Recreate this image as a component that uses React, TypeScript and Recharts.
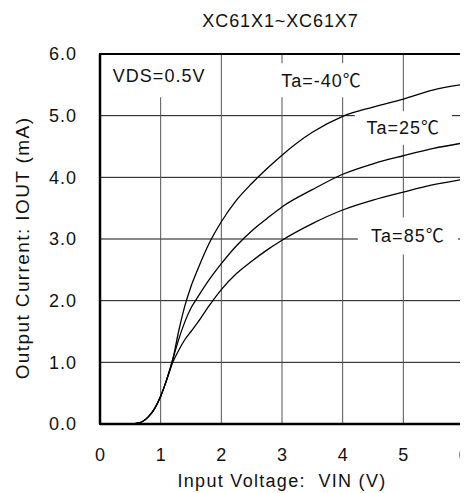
import React from 'react';
import { LineChart, Line, XAxis, YAxis, CartesianGrid, ReferenceArea } from 'recharts';

const title = 'XC61X1~XC61X7';
const xLabel = 'Input Voltage:\u00a0\u00a0VIN (V)';
const yLabel = 'Output Current: IOUT (mA)';

const vin = [0, 0.5, 0.6, 0.7, 0.8, 0.9, 1.0, 1.1, 1.2, 1.3, 1.4, 1.5, 1.6, 1.8, 2.0, 2.25, 2.5, 2.75, 3, 3.5, 4, 4.5, 5, 5.5, 6];
const iTaM40 = [0, 0, 0.01, 0.04, 0.12, 0.25, 0.45, 0.72, 1.05, 1.52, 1.92, 2.23, 2.48, 2.93, 3.28, 3.63, 3.9, 4.14, 4.36, 4.73, 4.99, 5.14, 5.27, 5.42, 5.51];
const iTa25 = [0, 0, 0.01, 0.04, 0.12, 0.25, 0.45, 0.72, 1.05, 1.38, 1.66, 1.88, 2.04, 2.34, 2.6, 2.89, 3.13, 3.33, 3.52, 3.8, 4.05, 4.22, 4.35, 4.47, 4.56];
const iTa85 = [0, 0, 0.01, 0.04, 0.12, 0.25, 0.45, 0.72, 1.0, 1.2, 1.37, 1.5, 1.63, 1.92, 2.18, 2.44, 2.64, 2.82, 2.98, 3.25, 3.47, 3.63, 3.76, 3.88, 3.97];

const xTicks = [0, 1, 2, 3, 4, 5, 6];
const yTicks = [0, 1, 2, 3, 4, 5, 6];

const notes = [
  { text: 'VDS=0.5V', x1: 0.15, x2: 1.8, y1: 5.3, y2: 6.0 },
  { text: 'Ta=-40℃', x1: 2.8, x2: 4.5, y1: 5.3, y2: 5.85 },
  { text: 'Ta=25℃', x1: 4.2, x2: 5.8, y1: 4.53, y2: 5.07 },
  { text: 'Ta=85℃', x1: 4.25, x2: 5.9, y1: 2.75, y2: 3.35 },
];

const data = vin.map((v, i) => ({ v, a: iTaM40[i], b: iTa25[i], c: iTa85[i] }));

const FONT = "'Liberation Sans', Arial, 'Noto Sans CJK SC', sans-serif";

const YLab = (props: any) => {
  const vb = props.viewBox || {};
  const cx = vb.x + 14;
  const cy = vb.y + vb.height / 2 + 9;
  return (
    <text x={cx} y={cy} transform={`rotate(-90, ${cx}, ${cy})`} textAnchor="middle" dominantBaseline="central"
      fontSize={19} letterSpacing={1.4} fill="#111" fontFamily={FONT}>{yLabel}</text>
  );
};

export default function App() {
  return (
    <div style={{ position: 'relative', width: 460, height: 485, fontFamily: FONT, background: '#fff' }}>
      <LineChart width={460} height={485} data={data} margin={{ top: 46, right: 4, left: 0, bottom: 0 }}>
        <CartesianGrid vertical={false} stroke="#111" strokeWidth={1} strokeOpacity={1} />
        <CartesianGrid horizontal={false} stroke="#555" strokeWidth={1} strokeOpacity={1} />
        <XAxis dataKey="v" type="number" domain={[0, 6]} ticks={xTicks} height={69}
          axisLine={{ stroke: '#000', strokeWidth: 2.5 }} tickLine={false} tickMargin={18}
          tick={{ fontSize: 18, fill: '#111', fontFamily: FONT }}
          label={{ value: xLabel, position: 'insideBottom', offset: 6, fontSize: 18, fill: '#111', letterSpacing: 1.3, fontFamily: FONT }} />
        <YAxis type="number" domain={[0, 6]} ticks={yTicks} width={92}
          tickFormatter={(t: number) => t.toFixed(1)}
          axisLine={{ stroke: '#000', strokeWidth: 2.5 }} tickLine={false} tickMargin={17}
          tick={{ fontSize: 18, fill: '#111', fontFamily: FONT, letterSpacing: 1 }}
          label={<YLab />} />
        {notes.map((n) => (
          <ReferenceArea key={n.text} x1={n.x1} x2={n.x2} y1={n.y1} y2={n.y2} fill="#fff" fillOpacity={1} stroke="none"
            label={{ value: n.text, position: 'center', fontSize: 18, fill: '#111', letterSpacing: 1, fontFamily: FONT }} />
        ))}
        <ReferenceArea x1={0} x2={6} y1={0} y2={6} fill="none" stroke="#000" strokeWidth={2} />
        <Line dataKey="a" type="monotone" stroke="#000" strokeWidth={1.3} dot={false} isAnimationActive={false} />
        <Line dataKey="b" type="monotone" stroke="#000" strokeWidth={1.3} dot={false} isAnimationActive={false} />
        <Line dataKey="c" type="monotone" stroke="#000" strokeWidth={1.3} dot={false} isAnimationActive={false} />
      </LineChart>
      <svg width={460} height={40} style={{ position: 'absolute', left: 0, top: 0, pointerEvents: 'none' }}>
        <text x={272.5} y={19} textAnchor="middle" fontSize={18} letterSpacing={0.9} fill="#111" fontFamily={FONT}>{title}</text>
      </svg>
    </div>
  );
}
